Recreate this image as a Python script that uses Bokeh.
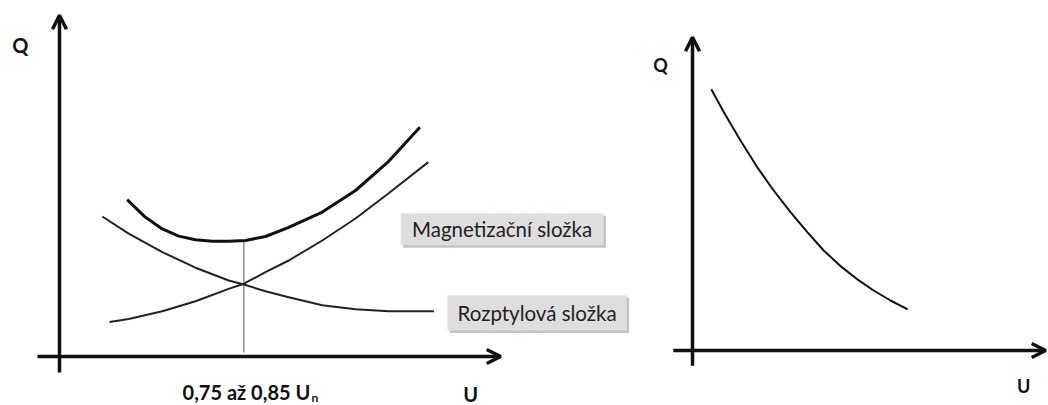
from bokeh.plotting import figure
from bokeh.layouts import row
from bokeh.models import Range1d, Arrow, OpenHead
from bokeh.core.properties import value
from bokeh.embed import file_html
from bokeh.resources import INLINE

FONT = value("Lato")
INK = "#111111"

# ---------------- left panel data (U, Q in arbitrary units) ----------------
total_u = [1.69, 2.15, 2.57, 2.98, 3.40, 3.82, 4.23, 4.65, 5.15, 5.73, 6.57, 7.40, 8.23, 9.01]
total_q = [3.92, 3.48, 3.19, 3.01, 2.92, 2.88, 2.88, 2.90, 3.00, 3.23, 3.61, 4.15, 4.88, 5.73]

magn_u = [1.25, 1.73, 2.57, 3.40, 4.23, 4.61, 5.15, 5.73, 6.57, 7.40, 8.23, 9.22]
magn_q = [0.86, 0.94, 1.13, 1.38, 1.69, 1.82, 2.11, 2.40, 2.90, 3.45, 4.08, 4.86]

scat_u = [1.07, 1.73, 2.57, 3.40, 4.23, 4.61, 5.15, 5.73, 6.57, 7.40, 8.23, 9.36]
scat_q = [3.50, 3.07, 2.61, 2.22, 1.90, 1.80, 1.63, 1.48, 1.28, 1.18, 1.13, 1.13]

opt_u = [4.61, 4.61]
opt_q = [0.10, 2.88]

left_xaxis = [-0.55, 11.03]
left_yaxis = [-0.40, 8.53]

box_labels = ["Magnetizační složka", "Rozptylová složka"]
box_left = [8.53, 9.70]
box_right = [13.60, 14.18]
box_bottom = [2.78, 0.65]
box_top = [3.58, 1.53]

# ---------------- right panel data ----------------
r_u = [0.47, 0.78, 1.20, 1.62, 2.03, 2.45, 2.87, 3.28, 3.70, 4.12, 4.53, 4.95, 5.38]
r_q = [6.53, 5.96, 5.25, 4.58, 4.00, 3.46, 2.96, 2.50, 2.11, 1.78, 1.50, 1.25, 1.03]

right_xaxis = [-0.48, 8.83]
right_yaxis = [-0.38, 7.83]


def base(w, h, xr, yr):
    p = figure(width=w, height=h, x_range=Range1d(*xr), y_range=Range1d(*yr),
               output_backend="svg", toolbar_location=None,
               x_axis_type=None, y_axis_type=None, min_border=0)
    p.grid.visible = False
    p.outline_line_color = None
    p.background_fill_color = "white"
    p.border_fill_color = "white"
    return p


def axes(p, xa, ya):
    p.add_layout(Arrow(end=OpenHead(size=14, line_width=3.5, line_color=INK),
                       x_start=xa[0], y_start=0, x_end=xa[1], y_end=0,
                       line_width=3.5, line_color=INK))
    p.add_layout(Arrow(end=OpenHead(size=14, line_width=3.5, line_color=INK),
                       x_start=0, y_start=ya[0], x_end=0, y_end=ya[1],
                       line_width=3.5, line_color=INK))


def label(p, x, y, t, size, bold=True, align="center", color=INK):
    p.text(x=[x], y=[y], text=[t], text_font=FONT,
           text_font_style="bold" if bold else "normal",
           text_font_size=size, text_color=color,
           text_align=align, text_baseline="middle")


# left figure: page x 0..640
L = base(640, 405, (-1.475, 14.525), (-1.225, 8.9))
axes(L, left_xaxis, left_yaxis)
L.line(opt_u, opt_q, line_color="#555555", line_width=1)
L.line(scat_u, scat_q, line_color="#222222", line_width=2, line_join="round")
L.line(magn_u, magn_q, line_color="#222222", line_width=2, line_join="round")
L.line(total_u, total_q, line_color=INK, line_width=3, line_join="round")

# shadows and boxes
L.quad(left=[b + 0.06 for b in box_left], right=[b + 0.06 for b in box_right],
       bottom=[b - 0.06 for b in box_bottom], top=[b - 0.06 for b in box_top],
       fill_color="#c4c4c4", line_color=None)
L.quad(left=box_left, right=box_right, bottom=box_bottom, top=box_top,
       fill_color="#dedede", line_color=None)
L.text(x=[(a + b) / 2 for a, b in zip(box_left, box_right)],
       y=[(a + b) / 2 for a, b in zip(box_bottom, box_top)],
       text=box_labels, text_font=FONT, text_font_size="20.5px",
       text_color="#222222", text_align="center", text_baseline="middle")

label(L, -0.98, 7.78, "Q", "20px")
label(L, 10.28, -0.93, "U", "20px")
label(L, 6.27, -0.88, "0,75 až 0,85 U", "20px", align="right")
label(L, 6.30, -1.02, "n", "12px", align="left")

# right figure: page x 640..1048
R = base(408, 405, (-1.3, 8.9), (-1.375, 8.75))
axes(R, right_xaxis, right_yaxis)
R.line(r_u, r_q, line_color=INK, line_width=2, line_join="round")
label(R, -0.8, 7.13, "Q", "18px")
label(R, 8.28, -0.88, "U", "18px")

layout = row(L, R, spacing=0)
open("out.html", "w").write(file_html(layout, INLINE))
